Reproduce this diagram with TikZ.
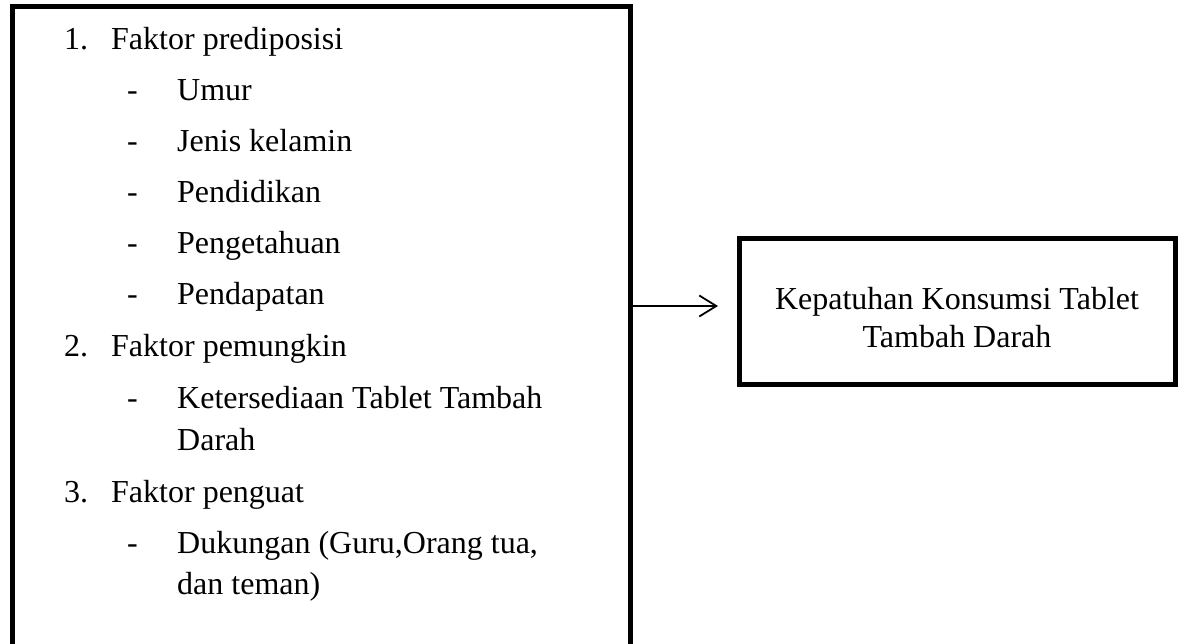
\documentclass[tikz,border=0pt]{standalone}
\usepackage{fontspec}
\setmainfont{Liberation Serif}
\usetikzlibrary{arrows.meta}
\begin{document}
\begin{tikzpicture}[x=1pt,y=-1pt,
  frame/.style={draw=black, line width=5pt, rectangle, inner sep=0pt},
  txt/.style={anchor=base west, inner sep=0pt, font=\fontsize{32}{38}\selectfont},
  ctxt/.style={anchor=base, inner sep=0pt, font=\fontsize{32}{38}\selectfont},
  flow/.style={line width=1.6pt, -{Straight Barb[length=17pt,width=21pt,line width=1.8pt]}}]
\useasboundingbox (0,0) rectangle (1184,644);
\clip (0,0) rectangle (1184,644);
\fill[white] (0,0) rectangle (1184,644);
% left frame (runs past the bottom edge)
\node[frame, anchor=north west, minimum width=617.5pt, minimum height=660pt, outer sep=2.5pt] (left) at (10,4.5) {};
% right frame
\node[frame, minimum width=435.5pt, minimum height=146.5pt, outer sep=2.5pt] (target) at (957.25,311.75) {};
\node[ctxt] (t1) at (957,310) {Kepatuhan Konsumsi Tablet};
\node[ctxt] (t2) at (957,348) {Tambah Darah};
% left content
\node[txt] (n1) at (64,50) {1.};
\node[txt] (h1) at (111,50) {Faktor prediposisi};
\node[txt] (d1) at (127,101) {-};
\node[txt] (s1) at (177,101) {Umur};
\node[txt] (d2) at (127,152) {-};
\node[txt] (s2) at (177,152) {Jenis kelamin};
\node[txt] (d3) at (127,203) {-};
\node[txt] (s3) at (177,203) {Pendidikan};
\node[txt] (d4) at (127,254) {-};
\node[txt] (s4) at (177,254) {Pengetahuan};
\node[txt] (d5) at (127,305) {-};
\node[txt] (s5) at (177,305) {Pendapatan};
\node[txt] (n2) at (64,357) {2.};
\node[txt] (h2) at (111,357) {Faktor pemungkin};
\node[txt] (d6) at (127,408) {-};
\node[txt] (s6) at (177,408) {Ketersediaan Tablet Tambah};
\node[txt] (s6b) at (177,450) {Darah};
\node[txt] (n3) at (64,502) {3.};
\node[txt] (h3) at (111,502) {Faktor penguat};
\node[txt] (d7) at (127,553) {-};
\node[txt] (s7) at (177,553) {Dukungan (Guru,Orang tua,};
\node[txt] (s7b) at (177,594) {dan teman)};
% arrow
\coordinate (aend) at (718,306);
\draw[flow] (left.east |- aend) -- (aend);
\end{tikzpicture}
\end{document}
